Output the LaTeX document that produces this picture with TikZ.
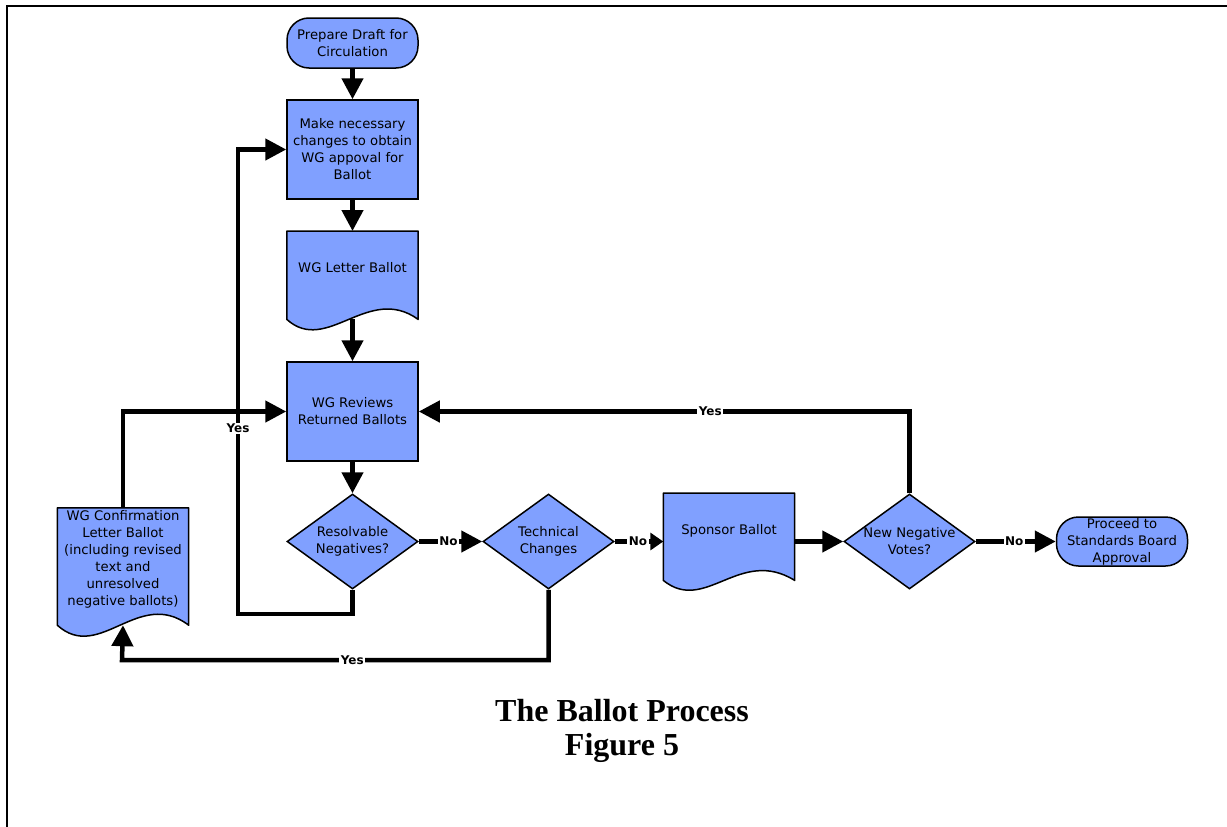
\documentclass[tikz,border=0pt]{standalone}
\usepackage{fontspec}
\setmainfont{DejaVu Sans}
\newfontfamily\titlefont{Liberation Serif}
\usetikzlibrary{arrows.meta,shapes.geometric,calc}
\pgfdeclarelayer{background}
\pgfsetlayers{background,main}
\definecolor{flowblue}{RGB}{128,160,255}
\newcommand\zw[1]{\makebox[0pt]{#1}}
\begin{document}
\begin{tikzpicture}[x=1pt,y=-1pt,
  every node/.style={font=\fontsize{13.2}{17}\selectfont},
  shapeline/.style={draw=black,line width=1.5pt,fill=flowblue},
  proc/.style={rectangle,shapeline,minimum width=131pt,minimum height=99pt,inner sep=2pt,align=center},
  term/.style={rectangle,shapeline,rounded corners=22pt,minimum width=131pt,minimum height=50pt,inner xsep=2pt,inner ysep=0pt,align=center},
  dec/.style={diamond,shapeline,minimum width=131pt,minimum height=95pt,inner sep=0pt,align=center},
  docnode/.style={rectangle,minimum width=131pt,minimum height=0pt,inner xsep=2pt,inner ysep=0pt,align=center},
  docshape/.style={shapeline,line join=round},
  conn/.style={line width=4.5pt,-{Triangle[length=21pt,width=21pt]}},
  shortconn/.style={line width=4.5pt,-{Triangle[length=13pt,width=17pt]}},
  lab/.style={fill=white,inner xsep=1.5pt,inner ysep=1pt,font=\bfseries\fontsize{12}{12}\selectfont},
  frameline/.style={line width=2.5pt}
]
\useasboundingbox (0,0) rectangle (1227,827);
\draw[frameline] (7,827) -- (7,6) -- (1227,6);

% nodes
\node[term] (prep) at (352.5,43) {Prepare Draft for\\Circulation};
\node[proc] (box1) at (352.5,149.5) {Make necessary\\changes to obtain\\WG appoval for\\Ballot};
\node[docnode,text height=41.5pt,text depth=46.5pt] (lb) at (352.5,231) [anchor=north] {WG Letter Ballot};
\node[proc] (rev) at (352.5,411.5) {WG Reviews\\Returned Ballots};
\node[dec] (res) at (352.5,541.5) {\zw{Resolvable}\\\zw{Negatives?}};
\node[dec] (tech) at (548.5,541.5) {\zw{Technical}\\\zw{Changes}};
\node[docnode,text height=41.5pt,text depth=45.5pt] (sp) at (729,493) [anchor=north] {Sponsor Ballot};
\node[dec] (nn) at (909.5,541.5) {\zw{New Negative}\\\zw{Votes?}};
\node[term,minimum height=49pt] (fin) at (1122,541.5) {\zw{Proceed to}\\\zw{Standards Board}\\\zw{Approval}};
\node[docnode,minimum height=117pt] (conf) at (123,566.5) {WG Confirmation\\Letter Ballot\\(including revised\\text and\\unresolved\\negative ballots)\\\mbox{}};

\node[font=\titlefont\bfseries\fontsize{32}{34}\selectfont,align=center] (title) at (622,731) {The Ballot Process\\Figure 5};

% document shapes
\begin{pgfonlayer}{background}
\filldraw[docshape] (lb.north west) -- (lb.north east) -- (lb.south east)
  .. controls ($(lb.south east)+(-50,-36)$) and ($(lb.south west)+(40,36)$) .. (lb.south west) -- cycle;
\filldraw[docshape] (sp.north west) -- (sp.north east) -- (sp.south east)
  .. controls ($(sp.south east)+(-55,-34)$) and ($(sp.south west)+(42,34)$) .. (sp.south west) -- cycle;
\filldraw[docshape] (conf.north west) -- (conf.north east) -- (conf.south east)
  .. controls ($(conf.south east)+(-50,-38)$) and ($(conf.south west)+(42,38)$) .. (conf.south west) -- cycle;
\end{pgfonlayer}

% connectors
\coordinate (c1) at (238,614);
\coordinate (c2) at (122,660);
\draw[conn] (prep.south) -- (box1.north);
\draw[conn] (box1.south) -- (lb.north);
\draw[conn] (lb.south) -- (rev.north);
\draw[conn] (rev.south) -- (res.north);
\draw[conn] (res.east) -- node[lab,pos=0.47] {No} (tech.west);
\draw[shortconn] (tech.east) -- node[lab,pos=0.48] {No} (tech.east -| sp.west);
\draw[conn] (tech.east -| sp.east) -- (nn.west);
\draw[conn] (nn.east) -- node[lab,pos=0.48] {No} (fin.west);
\draw[conn] (nn.north) |- node[lab,pos=0.703] {Yes} (rev.east);
\draw[conn] (res.south) |- (c1) |- node[lab,pos=0.2] {Yes} (box1.west);
\draw[conn] (tech.south) |- node[lab,pos=0.73] {Yes} (c2) -- (conf.south);
\draw[conn] (conf.north) |- (rev.west);
\end{tikzpicture}
\end{document}
